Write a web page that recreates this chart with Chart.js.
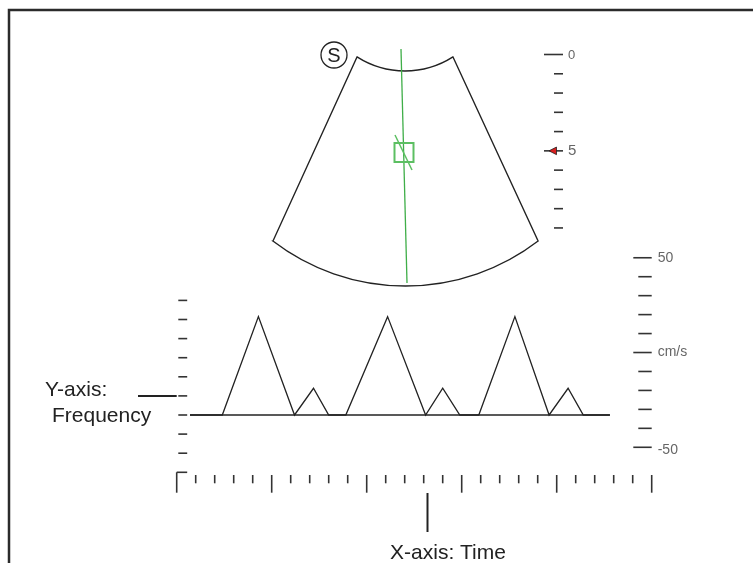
<!DOCTYPE html>
<html>
<head>
<meta charset="utf-8">
<script src="https://cdn.jsdelivr.net/npm/chart.js@4.4.0/dist/chart.umd.min.js"></script>
<style>
  html, body { margin: 0; padding: 0; background: #fff; }
  #wrap { position: relative; width: 753px; height: 563px; overflow: hidden; }
  canvas { display: block; }
</style>
</head>
<body>
<div id="wrap"><canvas id="doppler" width="753" height="563"></canvas></div>
<script>
// Time axis (bottom), long tick every 5th
const timeTicks = [0,1,2,3,4,5,6,7,8,9,10,11,12,13,14,15,16,17,18,19,20,21,22,23,24,25];
const timeMajorEvery = 5;

// Frequency axis (left), no labels
const freqTicks = [6,5,4,3,2,1,0,-1,-2,-3];

// Velocity scale (right)
const velTicks = [50,40,30,20,10,0,-10,-20,-30,-40,-50];
const velLabels = ['50','','','','','cm/s','','','','','-50'];

// Depth scale beside the image
const depthTicks = [0,1,2,3,4,5,6,7,8,9];
const depthLabels = ['0','','','','','5','','','',''];
const focusDepth = 5;

// Doppler waveform (time, frequency)
const waveTime = [0.7, 2.4, 4.3, 6.2, 7.2, 8.0, 8.9, 11.1, 13.1, 14.0, 14.9, 15.9, 17.8, 19.6, 20.6, 21.4, 22.8];
const waveFreq = [0,   0,   5.15, 0,  1.4, 0,   0,   5.15, 0,    1.4,  0,    0,    5.15, 0,    1.4,  0,    0];
const baselineTime = [0.7, 22.8];
const baselineFreq = [0, 0];

// where the caption pointers sit
const yAxisPointerFreq = 1;
const xAxisPointerTime = 13.2;

const FONT = '"Liberation Sans", Arial, Helvetica, sans-serif';

const toPoints = (xs, ys) => xs.map((x, i) => ({ x: x, y: ys[i] }));

const line = (ctx, x1, y1, x2, y2) => {
    ctx.beginPath();
    ctx.moveTo(x1, y1);
    ctx.lineTo(x2, y2);
    ctx.stroke();
};

const sketchPlugin = {
    id: 'sketch',
    afterDatasetsDraw(chart) {
        const ctx = chart.ctx;
        const sx = chart.scales.x;
        const sy = chart.scales.y;
        const sv = chart.scales.vel;
        const sd = chart.scales.depth;
        ctx.save();

        // outer frame (top and left only)
        ctx.strokeStyle = '#2b2b2b';
        ctx.lineWidth = 2.5;
        ctx.beginPath();
        ctx.moveTo(9, 563);
        ctx.lineTo(9, 10);
        ctx.lineTo(753, 10);
        ctx.stroke();

        // fan-shaped image area
        ctx.strokeStyle = '#222';
        ctx.lineWidth = 1.4;
        ctx.beginPath();
        ctx.moveTo(357, 57);
        ctx.lineTo(273, 241);
        ctx.arc(405.5, 68, 218, Math.atan2(173, -132.6), Math.atan2(173, 132.6), true);
        ctx.lineTo(453, 57);
        ctx.arc(405, -18, 89, Math.atan2(75, 48), Math.atan2(75, -48), false);
        ctx.closePath();
        ctx.stroke();

        // "S" marker
        ctx.lineWidth = 1.3;
        ctx.beginPath();
        ctx.arc(334, 55, 13, 0, Math.PI * 2);
        ctx.stroke();
        ctx.fillStyle = '#222';
        ctx.font = '20px ' + FONT;
        ctx.textAlign = 'center';
        ctx.textBaseline = 'middle';
        ctx.fillText('S', 334, 56);

        // doppler cursor line and sample gate
        ctx.strokeStyle = '#3fae48';
        ctx.lineWidth = 1.3;
        line(ctx, 401, 49, 407, 283);
        ctx.strokeStyle = '#5cbf62';
        ctx.lineWidth = 2;
        ctx.strokeRect(394.5, 143, 19, 19);
        ctx.lineWidth = 1.5;
        line(ctx, 395, 135, 412, 170);

        // depth scale
        ctx.strokeStyle = '#333';
        ctx.lineWidth = 1.6;
        ctx.fillStyle = '#666';
        ctx.textAlign = 'left';
        depthTicks.forEach((d, i) => {
            const y = sd.getPixelForValue(d);
            const major = depthLabels[i] !== '';
            line(ctx, major ? 544 : 554, y, 563, y);
            if (major) {
                ctx.font = (d === 0 ? '13px ' : '15px ') + FONT;
                ctx.fillText(depthLabels[i], 568, y + 0.5);
            }
        });
        // focus marker
        const fy = sd.getPixelForValue(focusDepth);
        ctx.fillStyle = '#d81e1e';
        ctx.strokeStyle = '#222';
        ctx.lineWidth = 0.8;
        ctx.beginPath();
        ctx.moveTo(549, fy);
        ctx.lineTo(556.5, fy - 3.8);
        ctx.lineTo(556.5, fy + 3.8);
        ctx.closePath();
        ctx.fill();
        ctx.stroke();

        // velocity scale
        const vRight = sx.getPixelForValue(25);
        ctx.strokeStyle = '#333';
        ctx.lineWidth = 1.6;
        ctx.fillStyle = '#666';
        ctx.font = '14px ' + FONT;
        velTicks.forEach((v, i) => {
            const y = sv.getPixelForValue(v);
            const major = velLabels[i] !== '';
            line(ctx, vRight - (major ? 18.4 : 13.4), y, vRight, y);
            if (major) ctx.fillText(velLabels[i], vRight + 6, v < 0 ? y + 2.5 : y);
        });

        // frequency ticks (left)
        const x0 = sx.getPixelForValue(0);
        const yBottom = sy.getPixelForValue(-3);
        freqTicks.forEach(v => {
            const y = sy.getPixelForValue(v);
            line(ctx, v === -3 ? x0 : x0 + 1.6, y, x0 + 10.5, y);
        });

        // time ticks (bottom)
        timeTicks.forEach(t => {
            const x = sx.getPixelForValue(t);
            const major = t % timeMajorEvery === 0;
            const top = t === 0 ? yBottom : yBottom + 2.7;
            line(ctx, x, top, x, yBottom + (major ? 20.4 : 11));
        });

        // caption pointers
        ctx.strokeStyle = '#222';
        ctx.lineWidth = 2;
        const py = sy.getPixelForValue(yAxisPointerFreq);
        line(ctx, 138, py, x0, py);
        const px = sx.getPixelForValue(xAxisPointerTime);
        line(ctx, px, 493, px, 532);

        // captions
        ctx.fillStyle = '#222';
        ctx.font = '21px ' + FONT;
        ctx.textBaseline = 'alphabetic';
        ctx.textAlign = 'left';
        ctx.fillText('Y-axis:', 45, 396);
        ctx.fillText('Frequency', 52, 421.5);
        ctx.textAlign = 'center';
        ctx.fillText('X-axis: Time', 448, 559);

        ctx.restore();
    }
};

new Chart(document.getElementById('doppler'), {
    type: 'scatter',
    data: {
        datasets: [
            {
                data: toPoints(baselineTime, baselineFreq),
                showLine: true,
                borderColor: '#222',
                borderWidth: 1.3,
                pointRadius: 0,
                clip: false
            },
            {
                data: toPoints(waveTime, waveFreq),
                showLine: true,
                borderColor: '#222',
                borderWidth: 1.3,
                pointRadius: 0,
                tension: 0,
                clip: false
            }
        ]
    },
    options: {
        responsive: false,
        animation: false,
        events: [],
        layout: { padding: { left: 176.7, right: 101.3, top: 300.4, bottom: 90.7 } },
        plugins: {
            legend: { display: false },
            tooltip: { enabled: false }
        },
        scales: {
            x: { type: 'linear', min: 0, max: 25, display: false },
            y: { type: 'linear', min: -3, max: 6, display: false },
            vel: { type: 'linear', axis: 'y', min: -63.2, max: 27.5, display: false },
            depth: { type: 'linear', axis: 'y', min: 12.76, max: 21.68, reverse: true, display: false }
        }
    },
    plugins: [sketchPlugin]
});
</script>
</body>
</html>
